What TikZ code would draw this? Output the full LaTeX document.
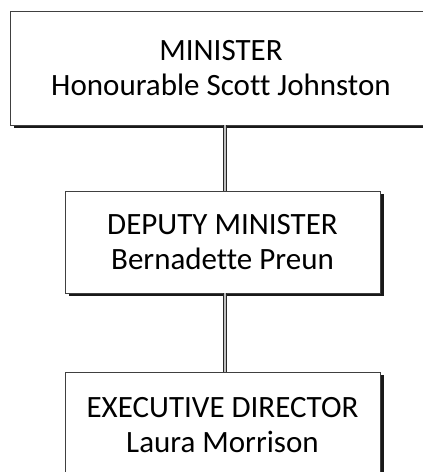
\documentclass[tikz,border=0pt]{standalone}
\usepackage{fontspec}
\setmainfont[Ligatures=NoCommon]{Carlito}
\usetikzlibrary{shadows}

\begin{document}
\begin{tikzpicture}[x=1pt, y=1pt]
    \tikzstyle{postbox}=[draw=black!75, line width=0.8pt, fill=white, rectangle, align=center,
        font=\fontsize{31}{34.5}\selectfont, inner sep=0pt,
        drop shadow={shadow xshift=3.5pt, shadow yshift=-3pt, fill=black, opacity=0.9}]
    \tikzstyle{link}=[draw=black!85, line width=1pt, double=black!25, double distance=1.6pt]

    \useasboundingbox (0, 0) rectangle (423, -472);
    \clip (0, 0) rectangle (423, -472);

    % Posts
    \node[postbox, minimum width=422pt, minimum height=114pt] (p_minister) at (221, -68)
        {MINISTER\\Honourable Scott Johnston};
    \node[postbox, minimum width=315pt, minimum height=102pt] (p_deputy) at (222.5, -242)
        {DEPUTY MINISTER\\Bernadette Preun};
    \node[postbox, minimum width=315pt, minimum height=106pt] (p_director) at (222.5, -425)
        {EXECUTIVE DIRECTOR\\Laura Morrison};

    % Reporting lines
    \draw[link] ([xshift=2.5pt]p_deputy.north) -- ([xshift=2.5pt]p_deputy.north |- p_minister.south);
    \draw[link] ([xshift=2.5pt]p_director.north) -- ([xshift=2.5pt]p_director.north |- p_deputy.south);
\end{tikzpicture}
\end{document}
